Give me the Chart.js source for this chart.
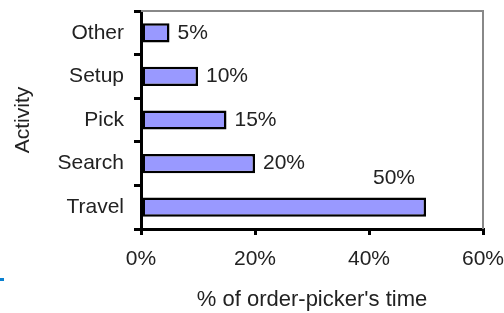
<!DOCTYPE html>
<html>
<head>
<meta charset="utf-8">
<script src="https://cdn.jsdelivr.net/npm/chart.js@4/dist/chart.umd.min.js"></script>
<style>
  html, body { margin: 0; padding: 0; background: #fff; }
  #wrap { position: relative; width: 504px; height: 313px; }
  #mark { position: absolute; left: 0; top: 278px; width: 4px; height: 3px; background: #0a80d0; }
</style>
</head>
<body>
<div id="wrap">
  <canvas id="chart" width="504" height="313"></canvas>
  <div id="mark"></div>
</div>
<script>
const activities = ['Other', 'Setup', 'Pick', 'Search', 'Travel'];
const timeShare = [5, 10, 15, 20, 50];
const xTicks = [0, 20, 40, 60];

const textColor = '#222';
const font = { family: '"Liberation Sans", Arial, sans-serif', size: 21 };

// labels beside each bar, the long one goes above its end
const valueLabels = {
    id: 'valueLabels',
    afterDatasetsDraw(chart) {
        const ctx = chart.ctx;
        const meta = chart.getDatasetMeta(0);
        ctx.save();
        ctx.font = font.size + 'px ' + font.family;
        ctx.fillStyle = textColor;
        ctx.textBaseline = 'middle';
        meta.data.forEach((bar, i) => {
            const txt = timeShare[i] + '%';
            if (timeShare[i] >= 40) {
                ctx.textAlign = 'right';
                ctx.fillText(txt, bar.x - 11, bar.y - 29);
            } else {
                ctx.textAlign = 'left';
                ctx.fillText(txt, bar.x + 8, bar.y);
            }
        });
        ctx.restore();
    }
};

// gray frame on top and right of the plot
const frame = {
    id: 'frame',
    beforeDatasetsDraw(chart) {
        const a = chart.chartArea;
        const ctx = chart.ctx;
        ctx.save();
        ctx.strokeStyle = '#888';
        ctx.lineWidth = 2;
        ctx.beginPath();
        ctx.moveTo(a.left, a.top);
        ctx.lineTo(a.right, a.top);
        ctx.lineTo(a.right, a.bottom);
        ctx.stroke();
        ctx.restore();
    }
};

new Chart(document.getElementById('chart'), {
    type: 'bar',
    data: {
        labels: activities,
        datasets: [{
            data: timeShare,
            backgroundColor: '#9999ff',
            borderColor: '#000',
            borderWidth: 2.5,
            borderSkipped: false,
            categoryPercentage: 1,
            barPercentage: 0.44
        }]
    },
    options: {
        indexAxis: 'y',
        responsive: false,
        animation: false,
        layout: { padding: 0 },
        plugins: { legend: { display: false }, tooltip: { enabled: false } },
        scales: {
            x: {
                min: 0,
                max: 60,
                afterFit(scale) {
                    scale.height = 84;
                    scale.paddingRight = 21;
                    scale.paddingLeft = 0;
                },
                afterBuildTicks(scale) { scale.ticks = xTicks.map(v => ({ value: v })); },
                ticks: {
                    color: textColor,
                    font: font,
                    padding: 12,
                    maxRotation: 0,
                    callback: v => v + '%'
                },
                grid: { drawOnChartArea: false, drawTicks: true, tickLength: 6, color: '#000', lineWidth: 3 },
                border: { color: '#000', width: 3 },
                title: {
                    display: true,
                    text: "% of order-picker's time",
                    color: textColor,
                    font: { family: font.family, size: 22 },
                    padding: { top: 0, bottom: 0 }
                }
            },
            y: {
                afterFit(scale) {
                    scale.width = 141;
                    scale.paddingTop = 11;
                    scale.paddingBottom = 0;
                },
                ticks: { color: textColor, font: font, padding: 10 },
                grid: { drawOnChartArea: false, drawTicks: true, tickLength: 7, color: '#000', lineWidth: 3, offset: true },
                border: { color: '#000', width: 3 },
                title: {
                    display: true,
                    text: 'Activity',
                    color: textColor,
                    font: font,
                    padding: { top: 11, bottom: 0 }
                }
            }
        }
    },
    plugins: [frame, valueLabels]
});
</script>
</body>
</html>
